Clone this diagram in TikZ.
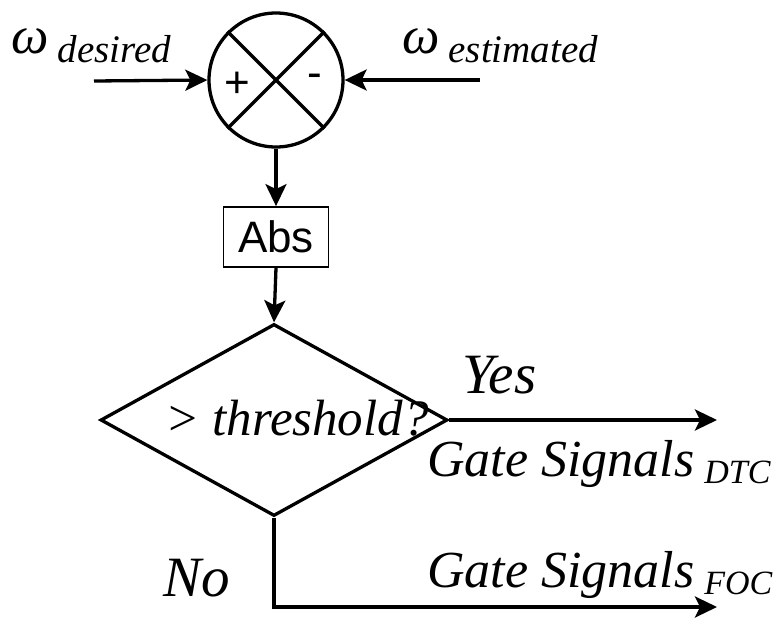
\documentclass[tikz,border=0pt]{standalone}
\usepackage{fontspec}
\setmainfont{Liberation Serif}
\setsansfont{Liberation Sans}
\usetikzlibrary{shapes.geometric,arrows.meta}
\newcommand{\fsz}[1]{\fontsize{#1}{#1}\selectfont}
\tikzset{
  line/.style={line width=3.3pt},
  arr/.style={line width=3.3pt,-{Stealth[length=22pt,width=21pt,inset=5pt]}},
  lbl/.style={inner sep=0pt,font=\itshape},
}
\begin{document}
\begin{tikzpicture}[x=1pt,y=-1pt]
\useasboundingbox (0,0) rectangle (780,627);
% summing junction
\node[circle,draw,line,minimum size=134pt,inner sep=0pt] (sum) at (276,80) {};
\draw[line] (sum.45) -- (sum.225);
\draw[line] (sum.135) -- (sum.315);
\node[inner sep=0pt,font=\sffamily\fsz{44}] (plus) at (237,85) {+};
\node[inner sep=0pt,font=\sffamily\fsz{44}] (minus) at (315,81) {-};
% inputs
\coordinate (inL) at (94,81);
\coordinate (inR) at (480,80);
\draw[arr] (inL) -- (sum.west);
\draw[arr] (inR) -- (sum.east);
\node[lbl,anchor=base west] (wd) at (11,53) {{\fsz{53}ω}\hspace{9pt}\raisebox{-9pt}{\fsz{39}desired}};
\node[lbl,anchor=base west] (we) at (402,53) {{\fsz{53}ω}\hspace{9pt}\raisebox{-9pt}{\fsz{39}estimated}};
% abs block
\node[draw,line width=1.8pt,minimum width=105pt,minimum height=60pt,inner sep=0pt,font=\sffamily\fsz{44}] (abs) at (276,237) {Abs};
\draw[arr] (sum.south) -- (abs.north);
% diamond
\node[diamond,draw,line,minimum width=347pt,minimum height=192pt,inner sep=0pt,aspect=1.807] (dec) at (274,420) {};
\draw[arr] (abs.south) -- (dec.north);
\node[lbl,anchor=base west,font=\itshape\fsz{51}] (thr) at (165,435) {> threshold?};
% outputs
\coordinate (yesEnd) at (717,420);
\coordinate (noCorner) at (274,607);
\coordinate (noEnd) at (717,607);
\draw[arr] (dec.east) -- (yesEnd);
\draw[arr] (dec.south) -- (noCorner) -- (noEnd);
\node[lbl,anchor=base west,font=\itshape\fsz{57}] (yes) at (462,393) {Yes};
\node[lbl,anchor=base west,font=\itshape\fsz{57}] (no) at (163,596) {No};
\node[lbl,anchor=base west] (gdtc) at (427,476) {{\fsz{52}Gate Signals}\hspace{10pt}\raisebox{-7pt}{\fsz{34}DTC}};
\node[lbl,anchor=base west] (gfoc) at (427,587) {{\fsz{52}Gate Signals}\hspace{10pt}\raisebox{-7pt}{\fsz{34}FOC}};
\end{tikzpicture}
\end{document}
